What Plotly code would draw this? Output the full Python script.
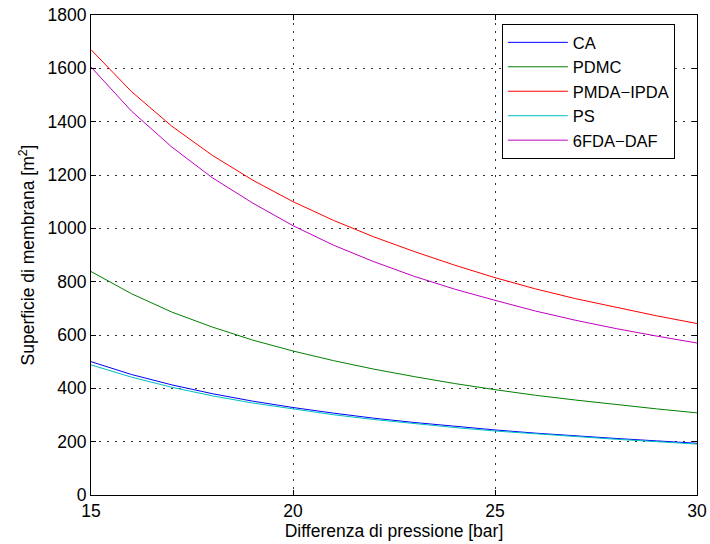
import plotly.graph_objects as go

pressure = [15, 16, 17, 18, 19, 20, 21, 22, 23, 24, 25, 26, 27, 28, 29, 30]
ca = [500, 452, 413, 380, 352, 328, 307, 288, 272, 257, 244, 232, 221, 212, 203, 194]
pdmc = [838, 755, 686, 630, 581, 540, 504, 472, 444, 418, 395, 374, 356, 339, 323, 308]
pmda_ipda = [1670, 1513, 1383, 1274, 1181, 1100, 1030, 968, 913, 862, 815, 773, 736, 703, 672, 643]
ps = [488, 442, 404, 372, 345, 322, 301, 283, 267, 253, 240, 229, 219, 209, 200, 191]
fda_daf = [1605, 1440, 1305, 1190, 1095, 1010, 937, 875, 820, 772, 730, 690, 655, 624, 596, 570]

series = [
    ("CA", ca, "#0000ff"),
    ("PDMC", pdmc, "#008000"),
    ("PMDA\u2212IPDA", pmda_ipda, "#ff0000"),
    ("PS", ps, "#00bfbf"),
    ("6FDA\u2212DAF", fda_daf, "#bf00bf"),
]

FONT = "Liberation Sans, Arial, Helvetica, sans-serif"

fig = go.Figure()
for name, vals, col in series:
    fig.add_trace(go.Scatter(x=pressure, y=vals, mode="lines", name=name,
                             line=dict(color=col, width=1)))

axis_common = dict(
    showline=True, linecolor="black", linewidth=1, mirror="ticks",
    ticks="inside", ticklen=5, tickcolor="black",
    showgrid=True, gridcolor="#333333", griddash="2px,6px", gridwidth=1,
    zeroline=False,
    tickfont=dict(family=FONT, size=17.5, color="black"),
    title_font=dict(family=FONT, size=17.5, color="black"),
)

fig.update_xaxes(range=[15, 30], tickvals=[15, 20, 25, 30],
                 title_text="Differenza di pressione [bar]", title_standoff=2, **axis_common)
fig.update_yaxes(range=[0, 1800], tickvals=list(range(0, 1801, 200)),
                 title_text="Superficie di membrana [m<sup>2</sup>]", title_standoff=8, **axis_common)

fig.update_layout(
    width=710, height=544,
    margin=dict(l=91, r=13, t=15, b=49, autoexpand=False),
    paper_bgcolor="white", plot_bgcolor="white",
    font=dict(family=FONT, size=17.5, color="black"),
    showlegend=True,
    legend=dict(x=0.678, y=0.981, xanchor="left", yanchor="top",
                bgcolor="white", bordercolor="black", borderwidth=1,
                font=dict(family=FONT, size=16.5), tracegroupgap=0, itemwidth=60),
)

fig.write_html("out.html", config={"displayModeBar": False},
               post_script="document.body.style.margin='0px';document.body.style.overflow='hidden';")
